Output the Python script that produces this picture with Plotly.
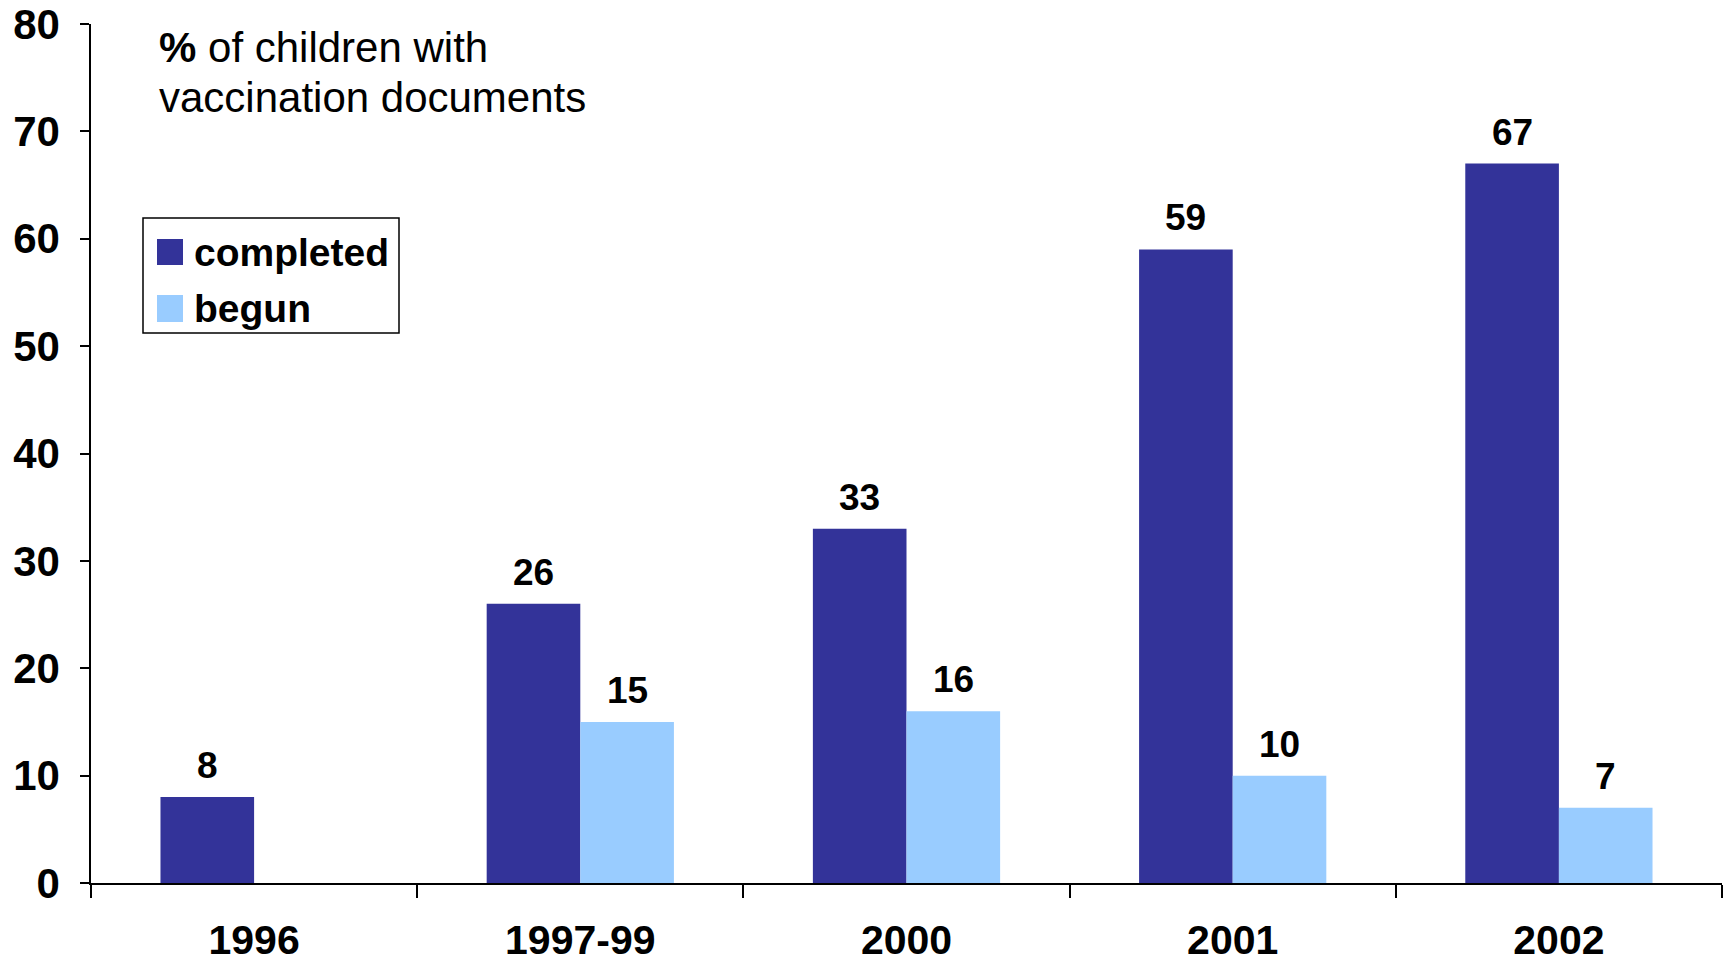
import plotly.graph_objects as go

# Vaccination documentation by survey period
periods = ["1996", "1997-99", "2000", "2001", "2002"]
completed = [8, 26, 33, 59, 67]
begun = [None, 15, 16, 10, 7]
y_ticks = [0, 10, 20, 30, 40, 50, 60, 70, 80]
series_names = ["completed", "begun"]

DARK = "#333399"
LIGHT = "#99CCFF"
FONT = "Arial, 'Liberation Sans', sans-serif"
BARGAP = 0.426
half_w = (1 - BARGAP) / 2

W, H = 1725, 963
M_L, M_R, M_T, M_B = 91, 3, 24, 80


def px_x(p):
    return (p - M_L) / (W - M_L - M_R)


def px_y(p):
    return (H - M_B - p) / (H - M_T - M_B)


fig = go.Figure()
fig.add_trace(go.Bar(name=series_names[0], x=periods, y=completed,
                     marker=dict(color=DARK, line=dict(width=0))))
fig.add_trace(go.Bar(name=series_names[1], x=periods, y=begun,
                     marker=dict(color=LIGHT, line=dict(width=0))))

# Value labels above each bar
annotations = []
for series, shift in ((completed, -half_w / 2), (begun, half_w / 2)):
    for i, v in enumerate(series):
        if v is None:
            continue
        annotations.append(dict(x=i + shift, y=v, xref="x", yref="y",
                                text=f"<b>{v}</b>", showarrow=False,
                                yanchor="bottom", yshift=9,
                                font=dict(family=FONT, size=37, color="black")))

# Chart caption, two lines
for line, yc in (("<b>%</b> of children with", 48),
                 ("vaccination documents", 98)):
    annotations.append(dict(x=px_x(157), y=px_y(yc), xref="paper", yref="paper",
                            xanchor="left", yanchor="middle", text=line,
                            showarrow=False,
                            font=dict(family=FONT, size=42, color="black")))

# Boxed legend with large square swatches
shapes = [dict(type="rect", xref="paper", yref="paper",
               x0=px_x(143), x1=px_x(399), y0=px_y(333), y1=px_y(218),
               line=dict(color="black", width=1.5), fillcolor="white", layer="above")]
for name, color, (top, bottom), yc in ((series_names[0], DARK, (239, 265), 252),
                                       (series_names[1], LIGHT, (295, 322), 308)):
    shapes.append(dict(type="rect", xref="paper", yref="paper",
                       x0=px_x(157), x1=px_x(183), y0=px_y(bottom), y1=px_y(top),
                       line=dict(width=0), fillcolor=color, layer="above"))
    annotations.append(dict(x=px_x(192), y=px_y(yc), xref="paper", yref="paper",
                            xanchor="left", yanchor="middle", text=f"<b>{name}</b>",
                            showarrow=False,
                            font=dict(family=FONT, size=39, color="black")))

fig.update_layout(
    width=W, height=H,
    margin=dict(l=M_L, r=M_R, t=M_T, b=M_B),
    paper_bgcolor="white", plot_bgcolor="white",
    barmode="group", bargap=BARGAP, bargroupgap=0,
    font=dict(family=FONT, color="black"),
    showlegend=False,
    annotations=annotations,
    shapes=shapes,
)

fig.update_xaxes(type="category", showline=True, linecolor="black", linewidth=2,
                 ticks="outside", ticklen=13, tickwidth=1.5, tickcolor="black",
                 tickson="boundaries", showgrid=False, zeroline=False,
                 automargin=False,
                 tickfont=dict(family=FONT, size=41, color="black"),
                 ticklabelstandoff=20,
                 tickvals=periods, ticktext=[f"<b>{p}</b>" for p in periods])
fig.update_yaxes(range=[0, 80], showline=True, linecolor="black", linewidth=1.5,
                 ticks="outside", ticklen=9, tickwidth=1.5, tickcolor="black",
                 showgrid=False, zeroline=False, automargin=False,
                 tickvals=y_ticks, ticktext=[f"<b>{t}</b>" for t in y_ticks],
                 tickfont=dict(family=FONT, size=42, color="black"),
                 ticklabelstandoff=12)

fig.write_html("out.html")
